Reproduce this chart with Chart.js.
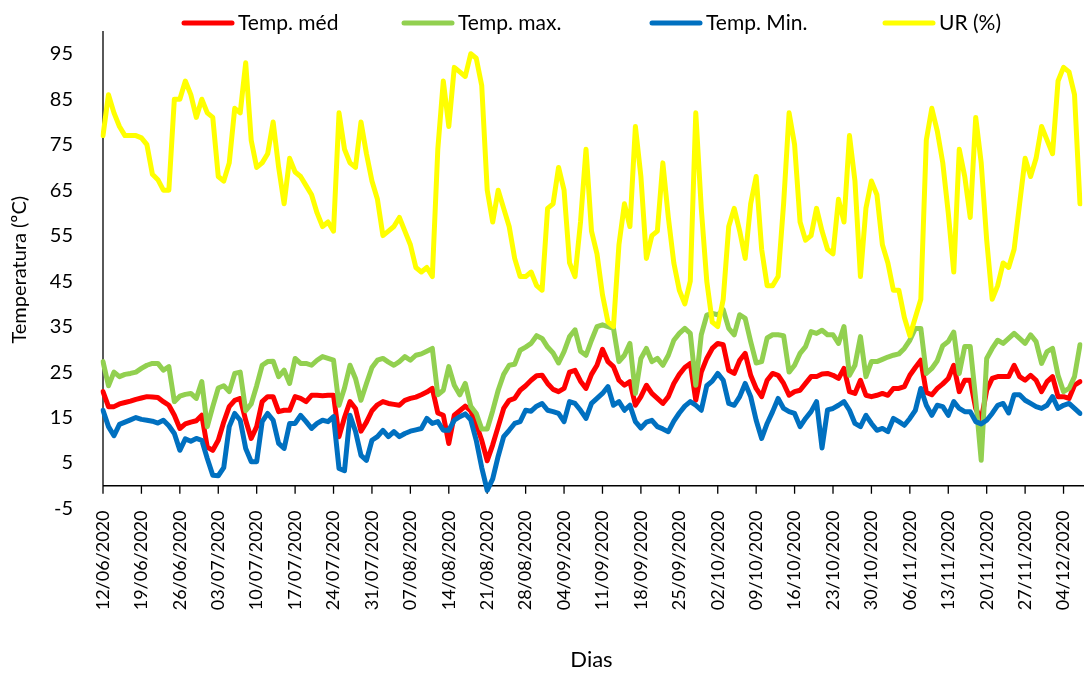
<!DOCTYPE html>
<html>
<head>
<meta charset="utf-8">
<script src="https://cdn.jsdelivr.net/npm/chart.js@4.4.1/dist/chart.umd.min.js"></script>
<style>
  body { margin: 0; background: #fff; }
</style>
</head>
<body>
<canvas id="grafico" width="1084" height="673"></canvas>
<script>
// daily series, 12/06/2020 onwards (one value per day)
var tempMed = [
  20.7, 17.4, 17.4, 18, 18.3, 18.6, 19, 19.3, 19.6, 19.5,
  19.4, 18.5, 17.7, 15.5, 12.6, 13.6, 14, 14.3, 15.5, 8.5,
  7.8, 10, 14, 17.4, 18.8, 19.2, 14.4, 10.4, 13, 18.5,
  19.6, 19.6, 16.3, 16.6, 16.6, 19.6, 19.2, 18.5, 19.9, 19.9,
  19.8, 19.9, 19.9, 10.8, 15, 18.5, 17, 12, 14, 16.5,
  17.8, 18.5, 18.1, 17.9, 17.7, 18.8, 19.2, 19.5, 20, 20.6,
  21.4, 16, 15.5, 9.3, 15.5, 16.5, 17.5, 16.5, 13.5, 10,
  5.5, 9, 13, 17, 18.8, 19.2, 21, 22, 23.2, 24.2,
  24.3, 22.5, 21.2, 20.7, 21.4, 25, 25.4, 23, 21.4, 24.5,
  26.5, 30, 27.3, 26.2, 23.2, 22.1, 22.9, 17.7, 19.6, 22.1,
  20.3, 19.2, 18.1, 19.6, 22.5, 24.5, 26, 26.9, 18.8, 25,
  28, 30.2, 31.3, 31, 25.4, 24.7, 27.6, 29.1, 24.3, 21.4,
  19.6, 23.2, 24.7, 24.3, 22.5, 19.9, 20.7, 21, 22.5, 24,
  24, 24.6, 24.7, 24.3, 23.6, 25.8, 20.7, 20.3, 23.2, 19.9,
  19.6, 19.9, 20.3, 19.9, 21.4, 21.4, 21.8, 24.3, 26, 27.6,
  20.5, 20, 21.4, 22.4, 23.6, 26.5, 20.7, 23.2, 23.2, 17,
  14.5, 21, 23.6, 24, 24, 24, 26.5, 24, 23.2, 24.3,
  23.2, 20.7, 22.9, 24, 19.6, 19.6, 19.2, 22.1, 22.9
];
var tempMax = [
  27.3, 22, 25, 24, 24.5, 24.7, 25, 25.8, 26.5, 26.9,
  26.9, 25.4, 26.2, 18.5, 19.7, 20.1, 20.3, 19.2, 22.9, 13,
  17.4, 21.5, 22, 20.7, 24.7, 25, 16.5, 18, 22, 26.5,
  27.3, 27.4, 24, 25.4, 22.5, 28, 26.9, 26.9, 26.5, 27.6,
  28.4, 28, 27.6, 17.7, 21.5, 26.5, 23.6, 18.8, 22.5, 26,
  27.6, 28, 27.2, 26.5, 27.3, 28.4, 27.6, 28.7, 29, 29.6,
  30.2, 20, 21, 26.2, 22.1, 20, 22.5, 17.5, 15.9, 12.5,
  12.5, 16.5, 21, 24.5, 26.5, 26.7, 29.8, 30.5, 31.3, 33,
  32.4, 30.5, 29.2, 27, 29.5, 32.8, 34.3, 29.6, 28.7, 32,
  35, 35.4, 35, 34.6, 27.3, 28.7, 31.3, 20.3, 28, 30.2,
  27.3, 28, 26.5, 28.7, 32, 33.5, 34.6, 33.5, 22.1, 33.2,
  37.5, 37.9, 37.6, 38.7, 34.6, 33.2, 37.6, 36.8, 31.7, 27,
  27.3, 32.5, 33.2, 33.2, 33, 25, 26.5, 29.1, 30.6, 33.9,
  33.5, 34.2, 33.2, 33.2, 31.3, 35, 24.3, 26.5, 32.8, 24,
  27.3, 27.3, 27.8, 28.3, 28.7, 29, 30.2, 32, 34.6, 34.6,
  24.7, 25.8, 27.5, 30.8, 31.7, 33.8, 24.7, 30.6, 30.6, 19,
  5.6, 28, 30.2, 32, 31.3, 32.4, 33.5, 32.4, 31.3, 33.2,
  31.7, 26.9, 29.5, 30.2, 24.3, 20.7, 21.4, 24, 31
];
var tempMin = [
  16.6, 13, 11, 13.5, 14, 14.5, 15, 14.6, 14.4, 14.2,
  13.8, 14.4, 13.2, 11.5, 7.8, 10.3, 9.8, 10.4, 10, 6,
  2.3, 2.2, 4, 13, 15.9, 14.4, 8.2, 5.3, 5.3, 14.1,
  15.9, 14.4, 9.3, 8.2, 13.7, 13.7, 15.5, 14.1, 12.6, 13.7,
  14.4, 14.1, 15.2, 3.8, 3.3, 15.5, 12, 6.7, 5.6, 10,
  10.8, 12.2, 10.8, 11.9, 10.8, 11.5, 12, 12.3, 12.6, 14.8,
  13.7, 14.1, 12.2, 12.2, 14.4, 15.2, 15.8, 14.5, 10, 4,
  -1, 1.5, 6.5, 10.8, 12.2, 13.7, 14.1, 16.6, 16.4, 17.5,
  18.1, 16.6, 16.3, 15.9, 14.1, 18.5, 18.1, 16.6, 14.8, 18.1,
  19.2, 20.3, 21.8, 17.7, 18.5, 16.6, 17.7, 14.1, 12.7, 14,
  14.4, 13, 12.5, 11.9, 14.2, 16, 17.5, 18.5, 17.7, 16.6,
  22, 23, 24.7, 23.2, 18.1, 17.7, 19.6, 22.5, 19.6, 14.4,
  10.4, 13.7, 16.3, 19.2, 17, 16.3, 15.9, 13, 14.8, 16.3,
  18.5, 8.3, 16.7, 17, 17.7, 18.5, 16.6, 13.7, 13, 15.5,
  13.7, 12.2, 12.6, 11.9, 14.8, 14.1, 13.3, 14.8, 16.6, 21.4,
  17.7, 15.5, 17.7, 17.4, 15.5, 18.5, 17, 16.3, 16.3, 14.1,
  13.6, 14.4, 15.9, 17.7, 18.1, 16, 20, 20, 18.8, 18.1,
  17.4, 17, 17.7, 19.6, 17, 17.7, 18.1, 17, 15.9
];
var umidade = [
  77, 86, 82, 79, 77, 77, 77, 76.5, 75, 68.5,
  67.3, 65, 65, 85, 85, 89, 86, 81, 85, 82,
  81, 68, 67, 71, 83, 82, 93, 76, 70, 71,
  73, 80, 70, 62, 72, 69, 68, 66, 64, 60,
  57, 58, 56, 82, 74, 71, 70, 80, 73, 67,
  63, 55, 56, 57, 59, 56, 53, 48, 47, 48,
  46, 74, 89, 79, 92, 91, 90, 95, 94, 88,
  65, 58, 65, 61, 57, 50, 46, 46, 47, 44,
  43, 61, 62, 70, 65, 49, 46, 58, 74, 56,
  51, 42, 36, 35, 53, 62, 57, 79, 68, 50,
  55, 56, 71, 59, 49, 43, 40, 45, 82, 61,
  45, 36, 35, 41, 57, 61, 56, 50, 62, 68,
  52, 44, 44, 46, 62, 82, 75, 58, 54, 55,
  61, 56, 52, 51, 63, 58, 77, 67, 46, 61,
  67, 64, 53, 49, 43, 43, 37, 33, 37, 41,
  76, 83, 78, 71, 60, 47, 74, 68, 59, 81,
  71, 54, 41, 44, 49, 48, 52, 62, 72, 68,
  72, 79, 76, 73, 89, 92, 91, 86, 62
];
var yTicks = [-5, 5, 15, 25, 35, 45, 55, 65, 75, 85, 95];

// one category per day, label shown every 7 days
function dois(n) { return (n < 10 ? '0' : '') + n; }
var dias = [];
for (var i = 0; i < tempMed.length; i++) {
  var d = new Date(2020, 5, 12 + i);
  dias.push(dois(d.getDate()) + '/' + dois(d.getMonth() + 1) + '/' + d.getFullYear());
}

Chart.defaults.font.family = 'Lato';
Chart.defaults.color = '#000';

// axis line drawn at zero, with tick marks every week
var eixos = {
  id: 'eixos',
  beforeDatasetsDraw: function(chart) {
    var ctx = chart.ctx, xs = chart.scales.x, ys = chart.scales.y, area = chart.chartArea;
    var y0 = ys.getPixelForValue(0);
    ctx.save();
    ctx.strokeStyle = '#000';
    ctx.lineWidth = 1.3;
    ctx.beginPath();
    ctx.moveTo(area.left, ys.getPixelForValue(ys.max));
    ctx.lineTo(area.left, y0);
    ctx.moveTo(area.left, y0);
    ctx.lineTo(chart.width, y0);
    for (var i = 0; i < dias.length; i += 7) {
      var x = xs.getPixelForValue(i);
      ctx.moveTo(x, y0);
      ctx.lineTo(x, y0 + 8);
    }
    ctx.stroke();
    ctx.restore();
  }
};

// legend drawn by hand so the spacing matches
var legendX = [182, 402, 650, 883];
var legenda = {
  id: 'legenda',
  afterDraw: function(chart) {
    var ctx = chart.ctx;
    ctx.save();
    ctx.font = '21px Lato';
    ctx.textBaseline = 'middle';
    chart.data.datasets.forEach(function(ds, i) {
      var x = legendX[i], y = 23;
      ctx.strokeStyle = ds.borderColor;
      ctx.lineWidth = 5;
      ctx.lineCap = 'round';
      ctx.beginPath();
      ctx.moveTo(x + 2, y);
      ctx.lineTo(x + 50, y);
      ctx.stroke();
      ctx.fillStyle = '#000';
      ctx.fillText(ds.label, x + 56, y);
    });
    ctx.restore();
  }
};

var ctx = document.getElementById('grafico').getContext('2d');
new Chart(ctx, {
  type: 'line',
  data: {
    labels: dias,
    datasets: [
      { label: 'Temp. méd', data: tempMed, borderColor: '#FF0000', order: 3 },
      { label: 'Temp. max.', data: tempMax, borderColor: '#92D050', order: 2 },
      { label: 'Temp. Min.', data: tempMin, borderColor: '#0070C0', order: 1 },
      { label: 'UR (%)', data: umidade, borderColor: '#FFFF00', order: 0 }
    ]
  },
  options: {
    responsive: false,
    animation: false,
    devicePixelRatio: 1,
    layout: { padding: { top: 31, right: 4, bottom: 0, left: 0 } },
    elements: {
      point: { radius: 0 },
      line: { borderWidth: 5, tension: 0, borderJoinStyle: 'round', borderCapStyle: 'round', fill: false }
    },
    plugins: {
      legend: { display: false },
      tooltip: { enabled: false }
    },
    scales: {
      x: {
        grid: { display: false },
        border: { display: false },
        ticks: {
          autoSkip: false,
          minRotation: 90,
          maxRotation: 90,
          padding: -6,
          font: { size: 18 },
          callback: function(v, i) { return i % 7 === 0 ? dias[i] : ''; }
        },
        title: { display: true, text: 'Dias', font: { size: 22 }, padding: { top: 0, bottom: 0 } },
        afterFit: function(s) { s.height = 164.5; s.paddingLeft = 0; s.paddingRight = 0; }
      },
      y: {
        min: -5,
        max: 100,
        grid: { display: false },
        border: { display: false },
        afterBuildTicks: function(s) { s.ticks = yTicks.map(function(v) { return { value: v }; }); },
        ticks: { padding: 22, font: { size: 20 } },
        title: { display: true, text: 'Temperatura (ºC)', font: { size: 20 }, padding: { top: 8, bottom: 0 } },
        afterFit: function(s) { s.width = 103; s.paddingTop = 0; s.paddingBottom = 0; }
      }
    }
  },
  plugins: [eixos, legenda]
});
</script>
</body>
</html>
